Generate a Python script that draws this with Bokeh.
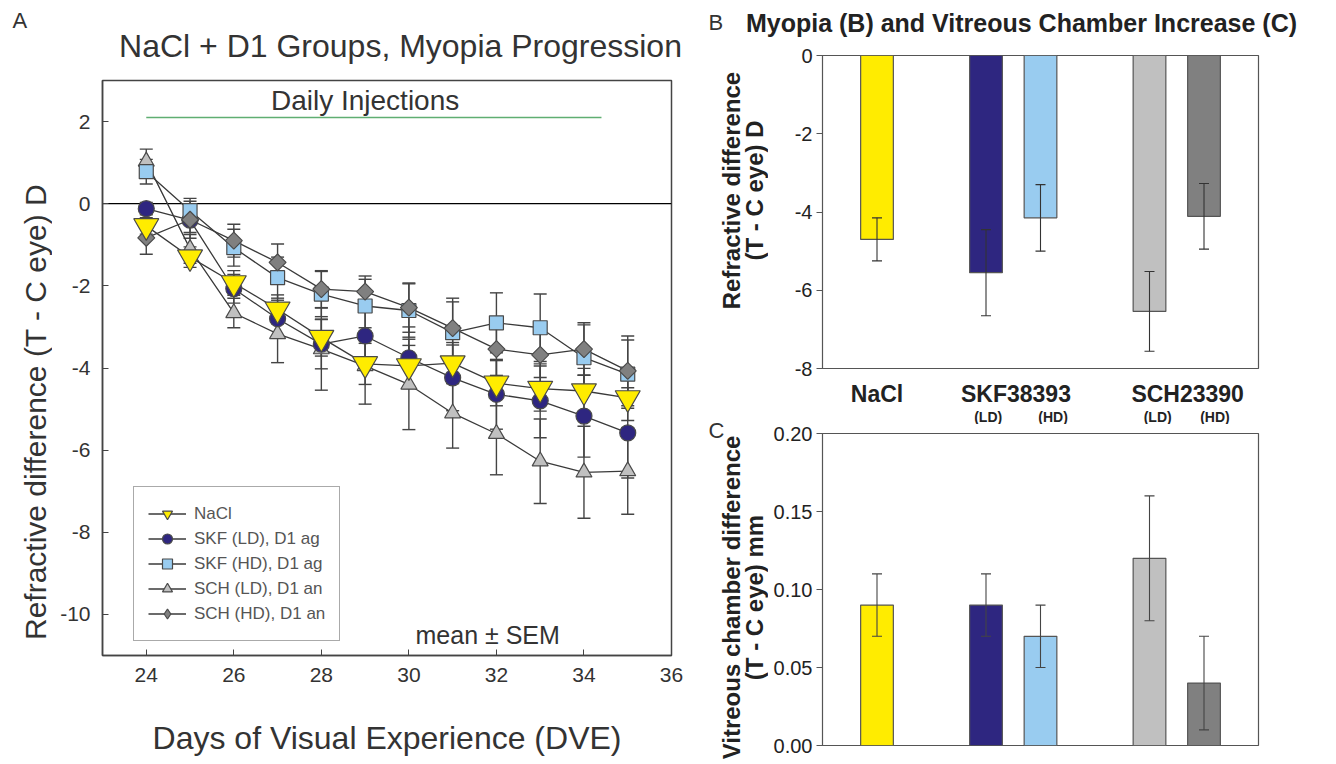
import numpy as np
from bokeh.plotting import figure
from bokeh.layouts import row, column
from bokeh.models import (ColumnDataSource, Whisker, TeeHead, Legend, LegendItem,
                          Label, FixedTicker, Range1d, Span, PrintfTickFormatter)
from bokeh.embed import file_html
from bokeh.resources import INLINE

FONT = "Liberation Sans"

# ---------------- data: panel A ----------------
days = [24, 25, 26, 27, 28, 29, 30, 31, 32, 33, 34, 35]
nacl_mean = [-0.54, -1.30, -1.93, -2.57, -3.26, -3.90, -3.95, -3.88, -4.37, -4.50, -4.56, -4.73]
nacl_sem = [0.20, 0.25, 0.30, 0.35, 0.45, 0.50, 0.50, 0.50, 0.55, 0.55, 0.55, 0.55]
skf_ld_mean = [-0.12, -0.40, -2.07, -2.80, -3.42, -3.22, -3.75, -4.24, -4.64, -4.80, -5.17, -5.58]
skf_ld_sem = [0.15, 0.30, 0.35, 0.45, 0.60, 0.65, 0.75, 0.80, 0.85, 0.90, 1.00, 1.10]
skf_hd_mean = [0.78, -0.17, -1.07, -1.80, -2.20, -2.49, -2.60, -3.14, -2.90, -3.02, -3.75, -4.15]
skf_hd_sem = [0.30, 0.30, 0.45, 0.50, 0.55, 0.65, 0.65, 0.75, 0.73, 0.82, 0.80, 0.83]
sch_ld_mean = [1.03, -1.10, -2.66, -3.17, -3.54, -3.95, -4.40, -5.10, -5.60, -6.27, -6.54, -6.51]
sch_ld_sem = [0.30, 0.35, 0.36, 0.70, 1.00, 0.93, 1.10, 0.85, 1.00, 1.03, 1.12, 1.05]
sch_hd_mean = [-0.83, -0.39, -0.90, -1.43, -2.08, -2.14, -2.53, -3.03, -3.54, -3.68, -3.54, -4.07]
sch_hd_sem = [0.40, 0.45, 0.40, 0.45, 0.45, 0.38, 0.60, 0.73, 0.64, 0.55, 0.64, 0.85]
series_labels = ["NaCl", "SKF (LD), D1 ag", "SKF (HD), D1 ag", "SCH (LD), D1 an", "SCH (HD), D1 an"]
injection_start, injection_end, injection_level = 24, 34.4, 2.1

# ---------------- data: panels B and C ----------------
group_pos = [1, 3, 4, 6, 7]
myopia_mean = [-4.70, -5.55, -4.15, -6.54, -4.11]
myopia_sem = [0.55, 1.10, 0.85, 1.02, 0.84]
vc_mean = [0.09, 0.09, 0.07, 0.12, 0.04]
vc_sem = [0.02, 0.02, 0.02, 0.04, 0.03]
drug_ticks = [1, 3.55, 6.7]
drug_labels = ["NaCl", "SKF38393", "SCH23390"]
dose_ticks = [3.04, 4.23, 6.15, 7.2]
dose_labels = ["(LD)", "(HD)", "(LD)", "(HD)"]

bar_colors = ["#FFEC00", "#2E2680", "#99CCF0", "#C0C0C0", "#808080"]


def text_fig(w, h, x_range=None, **kw):
    """A figure whose frame is the whole canvas, used to hold free text."""
    f = figure(width=w, height=h, x_range=x_range if x_range is not None else Range1d(0, w),
               y_range=Range1d(h, 0), output_backend="svg", toolbar_location=None,
               x_axis_type=None, y_axis_type=None, min_border=0, **kw)
    f.grid.visible = False
    f.outline_line_color = None
    return f


def txt(fig, x, y, text, size, bold=False, angle=0.0, align="center", color="#222222"):
    fig.add_layout(Label(x=x, y=y, text=text, text_font=FONT, text_font_size=size,
                         text_font_style="bold" if bold else "normal", angle=angle,
                         text_color=color, text_align=align, text_baseline="middle"))


# ================= Panel A =================
headA = text_fig(708, 70)
txt(headA, 12, 20, "A", "22px", align="left", color="#333333")
txt(headA, 400, 45, "NaCl + D1 Groups, Myopia Progression", "32px", color="#333333")

ylabA = text_fig(52, 694)
txt(ylabA, 35, 400, "Refractive difference (T - C eye) D", "30px", angle=np.pi / 2, color="#333333")

pA = figure(width=656, height=694, x_range=Range1d(23, 36), y_range=Range1d(-11, 3),
            output_backend="svg", toolbar_location=None,
            min_border_left=50, min_border_right=37, min_border_top=10, min_border_bottom=109)
pA.grid.visible = False
pA.outline_line_color = "#444444"
pA.outline_line_width = 1.5

for ax in (pA.xaxis[0], pA.yaxis[0]):
    ax.axis_line_color = "#444444"
    ax.axis_line_width = 1.5
    ax.major_tick_in = 6
    ax.major_tick_out = 0
    ax.minor_tick_line_color = None
    ax.major_tick_line_color = "#444444"
    ax.major_label_text_font = FONT
    ax.major_label_text_font_size = "21px"
    ax.major_label_text_color = "#333333"
    ax.axis_label_text_font = FONT
    ax.axis_label_text_font_size = "32px"
    ax.axis_label_text_font_style = "normal"
    ax.axis_label_text_color = "#333333"

pA.xaxis.ticker = FixedTicker(ticks=[24, 26, 28, 30, 32, 34, 36])
pA.yaxis.ticker = FixedTicker(ticks=[-10, -8, -6, -4, -2, 0, 2])
pA.yaxis.formatter = PrintfTickFormatter(format="%d")
pA.xaxis.axis_label = "Days of Visual Experience (DVE)"
pA.xaxis.major_label_standoff = 12
pA.xaxis.axis_label_standoff = 35
pA.yaxis.major_label_standoff = 12

pA.add_layout(Span(location=0, dimension="width", line_color="black", line_width=1.2, level="underlay"))
pA.line([injection_start, injection_end], [injection_level, injection_level],
        line_color="#5FAE72", line_width=1.6)

styles = [
    dict(mean=sch_ld_mean, sem=sch_ld_sem, marker="triangle", size=16, color="#C0C0C0", angle=0.0, idx=3),
    dict(mean=skf_ld_mean, sem=skf_ld_sem, marker="circle", size=16, color="#2E2680", angle=0.0, idx=1),
    dict(mean=skf_hd_mean, sem=skf_hd_sem, marker="square", size=14, color="#99CCF0", angle=0.0, idx=2),
    dict(mean=sch_hd_mean, sem=sch_hd_sem, marker="square", size=12, color="#808080", angle=np.pi / 4, idx=4),
    dict(mean=nacl_mean, sem=nacl_sem, marker="inverted_triangle", size=25, color="#FFEC00", angle=0.0, idx=0),
]

for s in styles:
    m = np.array(s["mean"]); e = np.array(s["sem"])
    src = ColumnDataSource(dict(x=days, upper=m + e, lower=m - e))
    pA.add_layout(Whisker(base="x", upper="upper", lower="lower", source=src, level="underlay",
                          line_color="#444444", line_width=1.4,
                          upper_head=TeeHead(size=13, line_color="#444444", line_width=1.4),
                          lower_head=TeeHead(size=13, line_color="#444444", line_width=1.4)))

legend_renderers = {}
for s in styles:
    lr = pA.line(days, s["mean"], line_color="#3A3A3A", line_width=1.3)
    legend_renderers[s["idx"]] = [lr]
for s in styles:
    if s["idx"] == 4:
        # diamond swatch for the legend; it sits fully under the rotated squares in the plot
        dr = pA.scatter(days, s["mean"], marker="diamond", size=15, fill_color=s["color"],
                        line_color="#4A4A4A", line_width=1.2)
    sr = pA.scatter(days, s["mean"], marker=s["marker"], size=s["size"], angle=s["angle"],
                    fill_color=s["color"], line_color="#4A4A4A", line_width=1.2)
    legend_renderers[s["idx"]].append(dr if s["idx"] == 4 else sr)

items = [LegendItem(label=series_labels[i], renderers=legend_renderers[i]) for i in range(5)]
legend = Legend(items=items, location=(31, 14),
                label_text_font=FONT, label_text_font_size="17px", label_text_color="#555555",
                border_line_color="#555555", border_line_width=1.2, background_fill_alpha=1.0,
                glyph_width=38, glyph_height=25, label_height=25, spacing=0, padding=14, margin=0,
                label_standoff=8)
pA.add_layout(legend)

txt(pA, 29.0, 2.51, "Daily Injections", "28px", color="#333333")
txt(pA, 31.8, -10.51, "mean \u00b1 SEM", "25px", color="#333333")

# ================= Panel B =================
headB = text_fig(628, 40)
txt(headB, 0, 22, "B", "22px", align="left", color="#333333")
txt(headB, 313, 22, "Myopia (B) and Vitreous Chamber Increase (C)", "25px", bold=True)

ylabB = text_fig(60, 360)
txt(ylabB, 23, 150, "Refractive difference", "24px", bold=True, angle=np.pi / 2)
txt(ylabB, 46, 150, "(T - C eye) D", "24px", bold=True, angle=np.pi / 2)

ylabC = text_fig(60, 364)
txt(ylabC, 0, 30, "C", "22px", align="left", color="#333333")
txt(ylabC, 23, 197, "Vitreous chamber difference", "24px", bold=True, angle=np.pi / 2)
txt(ylabC, 46, 197, "(T - C eye) mm", "24px", bold=True, angle=np.pi / 2)

xr = Range1d(0, 8)

pB = figure(width=568, height=340, x_range=xr, y_range=Range1d(-8, 0),
            output_backend="svg", toolbar_location=None, x_axis_type=None,
            min_border_left=54, min_border_right=78, min_border_top=15, min_border_bottom=12)
pB.grid.visible = False
pB.outline_line_color = "#555555"
pB.outline_line_width = 1.2

pB.vbar(x=group_pos, top=0, bottom=myopia_mean, width=0.6, fill_color=bar_colors,
        line_color="#555555", line_width=1.2)
mb = np.array(myopia_mean); sb = np.array(myopia_sem)
srcB = ColumnDataSource(dict(x=group_pos, upper=mb + sb, lower=mb - sb))
pB.add_layout(Whisker(base="x", upper="upper", lower="lower", source=srcB, level="overlay",
                      line_color="#333333", line_width=1.1,
                      upper_head=TeeHead(size=10, line_color="#333333", line_width=1.1),
                      lower_head=TeeHead(size=10, line_color="#333333", line_width=1.1)))

yb = pB.yaxis[0]
yb.ticker = FixedTicker(ticks=[-8, -6, -4, -2, 0])
yb.formatter = PrintfTickFormatter(format="%d")
yb.major_tick_out = 6; yb.major_tick_in = 0
yb.minor_tick_line_color = None
yb.axis_line_color = "#555555"; yb.major_tick_line_color = "#555555"
yb.major_label_text_font = FONT; yb.major_label_text_font_size = "20px"
yb.major_label_text_color = "#222222"; yb.major_label_standoff = 4

labB = text_fig(568, 44, x_range=xr)
labB.min_border_left = 54
labB.min_border_right = 78
for t, l in zip(drug_ticks, drug_labels):
    txt(labB, t, 13, l, "23px", bold=True)
for t, l in zip(dose_ticks, dose_labels):
    txt(labB, t, 36, l, "14px", bold=True)

# ================= Panel C =================
pC = figure(width=568, height=340, x_range=xr, y_range=Range1d(0, 0.2),
            output_backend="svg", toolbar_location=None, x_axis_type=None,
            min_border_left=54, min_border_right=78, min_border_top=9, min_border_bottom=19)
pC.grid.visible = False
pC.outline_line_color = "#555555"
pC.outline_line_width = 1.2

pC.vbar(x=group_pos, top=vc_mean, bottom=0, width=0.6, fill_color=bar_colors,
        line_color="#555555", line_width=1.2)
mc = np.array(vc_mean); sc = np.array(vc_sem)
srcC = ColumnDataSource(dict(x=group_pos, upper=mc + sc, lower=mc - sc))
pC.add_layout(Whisker(base="x", upper="upper", lower="lower", source=srcC, level="overlay",
                      line_color="#444444", line_width=1.1,
                      upper_head=TeeHead(size=10, line_color="#444444", line_width=1.1),
                      lower_head=TeeHead(size=10, line_color="#444444", line_width=1.1)))

yc = pC.yaxis[0]
yc.ticker = FixedTicker(ticks=[0, 0.05, 0.10, 0.15, 0.20])
yc.formatter = PrintfTickFormatter(format="%.2f")
yc.major_tick_out = 6; yc.major_tick_in = 0
yc.minor_tick_line_color = None
yc.axis_line_color = "#555555"; yc.major_tick_line_color = "#555555"
yc.major_label_text_font = FONT; yc.major_label_text_font_size = "20px"
yc.major_label_text_color = "#222222"; yc.major_label_standoff = 4

left = column(headA, row(ylabA, pA, spacing=0), spacing=0)
right = column(headB,
               row(column(ylabB, ylabC, spacing=0), column(pB, labB, pC, spacing=0), spacing=0),
               spacing=0)
layout = row(left, right, spacing=0)
open("out.html", "w").write(file_html(layout, INLINE))
